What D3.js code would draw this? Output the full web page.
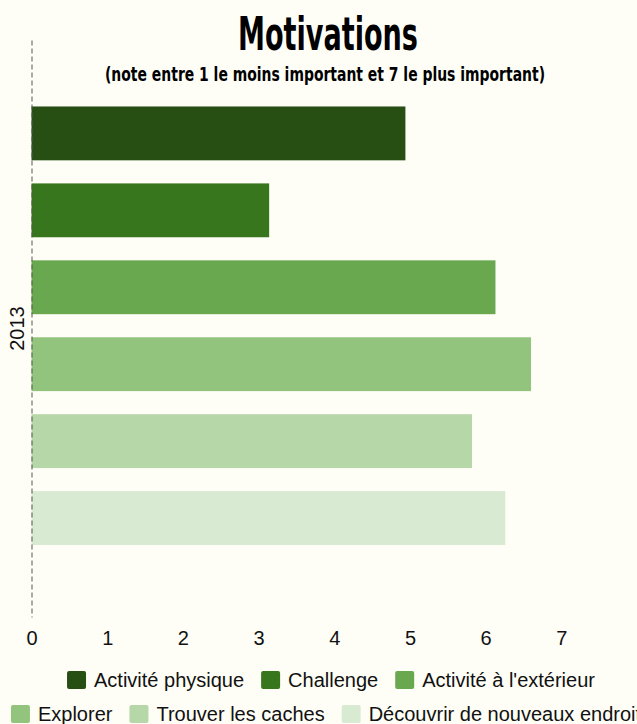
<!DOCTYPE html>
<meta charset="utf-8">
<html>
<head>
    <title>Motivations</title>
    <script src="https://d3js.org/d3.v7.min.js"></script>
    <style>
        body { margin: 0; background: #fefef7; }
        svg { display: block; }
        .axis text { font-family: "Liberation Sans", Arial, sans-serif; font-size: 20px; fill: #111; }
        .legend text { font-family: "Liberation Sans", Arial, sans-serif; font-size: 20px; fill: #111; }
        .titre { font-family: "Liberation Sans Narrow", "DejaVu Sans Condensed", sans-serif; font-weight: bold; fill: #000; }
    </style>
</head>
<body>
<div id="chart"></div>
<script type="text/javascript">

    // donnees
    var years = ["2013"];
    var motivations = ["Activité physique", "Challenge", "Activité à l'extérieur",
                       "Explorer", "Trouver les caches", "Découvrir de nouveaux endroits"];
    var notes2013 = [4.94, 3.14, 6.13, 6.60, 5.82, 6.26];
    var xTicks = [0, 1, 2, 3, 4, 5, 6, 7];

    var palette = ["#274e13", "#38761d", "#6aa84f", "#93c47d", "#b6d7a8", "#d9ead3"];

    var W = 637, H = 724,
        margin = { top: 40, right: 0, bottom: 107, left: 31.5 };

    var svg = d3.select("#chart").append("svg")
        .attr("width", W)
        .attr("height", H);

    // titre + sous-titre
    svg.append("text")
        .attr("class", "titre")
        .attr("x", 328).attr("y", 50)
        .attr("text-anchor", "middle")
        .attr("font-size", 47)
        .attr("textLength", 180)
        .attr("lengthAdjust", "spacingAndGlyphs")
        .text("Motivations");

    svg.append("text")
        .attr("class", "titre")
        .attr("x", 325).attr("y", 81)
        .attr("text-anchor", "middle")
        .attr("font-size", 19.5)
        .attr("textLength", 440)
        .attr("lengthAdjust", "spacingAndGlyphs")
        .text("(note entre 1 le moins important et 7 le plus important)");

    var x = d3.scaleLinear()
        .domain([0, 8])
        .range([margin.left, W - margin.right]);

    var y0 = d3.scaleBand()
        .domain(years)
        .range([margin.top, H - margin.bottom]);

    var y1 = d3.scaleBand()
        .domain(motivations)
        .range([0, y0.bandwidth()])
        .paddingInner(0.3)
        .paddingOuter(0.9)
        .align(0.48);

    var color = d3.scaleOrdinal().domain(motivations).range(palette);

    var data = motivations.map(function (m, i) {
        return { year: "2013", name: m, value: notes2013[i] };
    });

    // barres
    svg.append("g").selectAll("rect")
        .data(data)
        .enter().append("rect")
        .attr("x", x(0))
        .attr("y", function (d) { return y0(d.year) + y1(d.name); })
        .attr("width", function (d) { return x(d.value) - x(0); })
        .attr("height", y1.bandwidth())
        .style("fill", function (d) { return color(d.name); });

    // axe des x (seulement les chiffres)
    var xAxis = svg.append("g")
        .attr("class", "axis")
        .attr("transform", "translate(0," + (H - margin.bottom + 14) + ")")
        .call(d3.axisBottom(x).tickValues(xTicks).tickSize(0).tickPadding(0));
    xAxis.select(".domain").remove();
    xAxis.selectAll("text").attr("dy", "0.71em");

    // axe des y pointille
    var yAxis = svg.append("g")
        .attr("class", "axis")
        .attr("transform", "translate(" + x(0) + ",0)")
        .call(d3.axisLeft(y0).tickSize(0).tickPadding(8));
    yAxis.select(".domain")
        .attr("stroke", "#555")
        .attr("stroke-width", 1)
        .attr("stroke-dasharray", "5,3");
    yAxis.selectAll(".tick text")
        .attr("transform", "rotate(-90)")
        .attr("x", 0)
        .attr("y", -15)
        .attr("dy", "0.35em")
        .style("text-anchor", "middle");
    yAxis.raise();

    // legende sur deux lignes
    var rows = [motivations.slice(0, 3), motivations.slice(3)];
    var rowY = [671, 705];
    var sq = 19, gapText = 8, gapItem = 17;

    rows.forEach(function (row, r) {
        var g = svg.append("g").attr("class", "legend");
        var items = g.selectAll("g").data(row).enter().append("g");
        items.append("rect")
            .attr("width", sq).attr("height", 18)
            .attr("rx", 2)
            .style("fill", function (d) { return color(d); });
        items.append("text")
            .attr("x", sq + gapText)
            .attr("y", 16)
            .text(function (d) { return d; });
        var pos = 0;
        items.each(function () {
            var w = d3.select(this).select("text").node().getComputedTextLength();
            d3.select(this).attr("transform", "translate(" + pos + ",0)");
            pos += sq + gapText + w + gapItem;
        });
        var total = pos - gapItem;
        g.attr("transform", "translate(" + (331 - total / 2) + "," + rowY[r] + ")");
    });

</script>
</body>
</html>
